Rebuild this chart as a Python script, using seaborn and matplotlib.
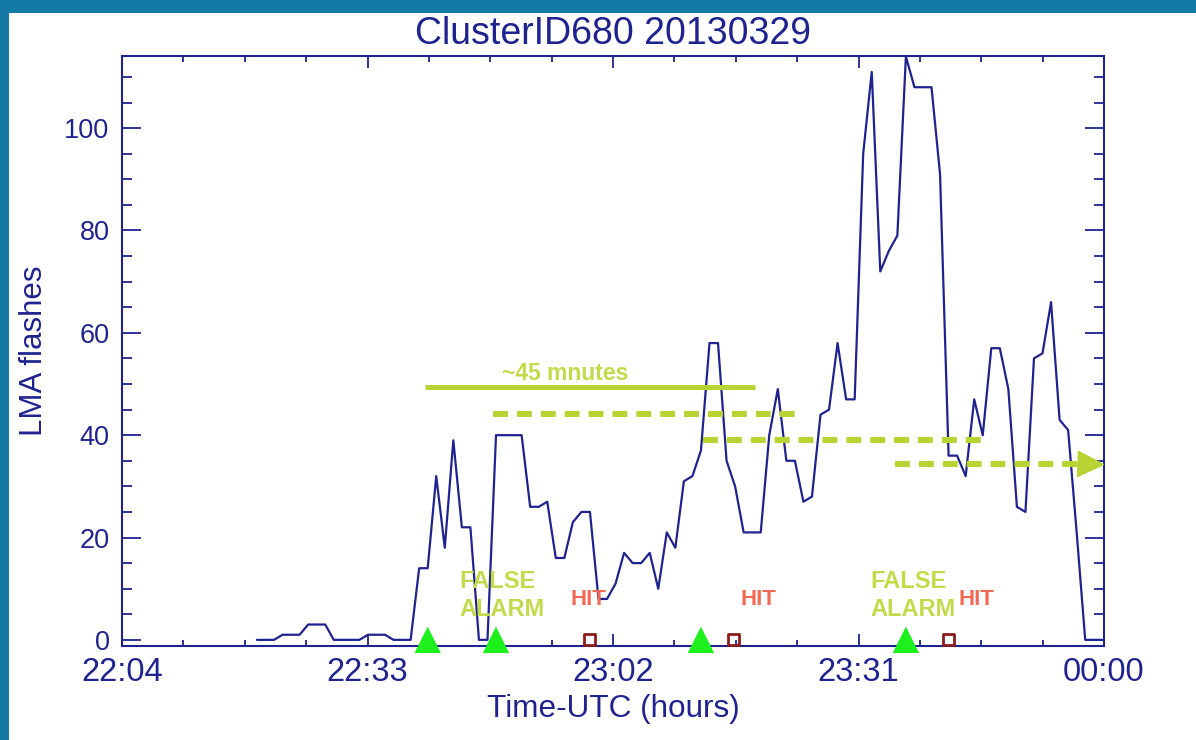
import pandas as pd
import matplotlib
matplotlib.use("Agg")
import matplotlib.pyplot as plt
import seaborn as sns
from matplotlib import font_manager
from matplotlib.patches import Rectangle
from matplotlib.ticker import MultipleLocator, FixedLocator, FixedFormatter

# ── Data ─────────────────────────────────────────────────────────────────────
# one LMA sample per minute; first sample is 15.8 min after the 22:04 axis start
first_sample_min = 15.8
flashes = [0, 0, 0, 1, 1, 1, 3, 3, 3, 0,
           0, 0, 0, 1, 1, 1, 0, 0, 0, 14,
           14, 32, 18, 39, 22, 22, 0, 0, 40, 40,
           40, 40, 26, 26, 27, 16, 16, 23, 25, 25,
           8, 8, 11, 17, 15, 15, 17, 10, 21, 18,
           31, 32, 37, 58, 58, 35, 30, 21, 21, 21,
           40, 49, 35, 35, 27, 28, 44, 45, 58, 47,
           47, 95, 111, 72, 76, 79, 114, 108, 108, 108,
           91, 36, 36, 32, 47, 40, 57, 57, 49, 26,
           25, 55, 56, 66, 43, 41, 21, 0, 0, 0]

tick_minutes = [0, 28.75, 57.5, 86.25, 115]
tick_labels = ["22:04", "22:33", "23:02", "23:31", "00:00"]

alarm_minutes = [35.8, 43.8, 67.8, 91.8]      # green triangles
hit_minutes = [54.8, 71.6, 96.8]              # dark red squares

# lead-time bars: (start min, end min, flashes level)
lead_solid = (35.5, 74.1, 49.5)
lead_dashed = [(43.4, 79.4, 44.2), (68.0, 101.1, 39.0)]
lead_arrow = (90.5, 112.0, 34.3)

false_alarm_x = [39.5, 87.6]
hit_x = [54.6, 74.5, 100.1]

NAVY = "#1f2390"
LIME = "#b8d432"
LIME_TXT = "#c3db4b"
HIT_RED = "#f26a55"

# ── Style ────────────────────────────────────────────────────────────────────
sns.set_theme(style="white")
names = {f.name for f in font_manager.fontManager.ttflist}
narrow = "Liberation Sans Narrow" in names
plt.rcParams["font.family"] = ["Liberation Sans", "DejaVu Sans"]
narrow_family = ["Liberation Sans Narrow", "Liberation Sans", "DejaVu Sans"] if narrow \
    else ["Liberation Sans", "DejaVu Sans"]
nscale = 1.0 if narrow else 0.84

times = [first_sample_min + i for i in range(len(flashes))]
df = pd.DataFrame({"minute": times, "flashes": flashes})

fig = plt.figure(figsize=(11.96, 7.40), dpi=100, facecolor="#1479a5")
fig.patches.append(Rectangle((9 / 1196, 0), 1, 1 - 13 / 740, transform=fig.transFigure,
                             facecolor="white", edgecolor="none", zorder=-10))
ax = fig.add_axes([122 / 1196, 94 / 740, 982 / 1196, 590 / 740])
ax.set_facecolor("white")

sns.lineplot(data=df, x="minute", y="flashes", ax=ax, color=NAVY, lw=1.6, zorder=3)

# lead-time lines
ax.plot(lead_solid[:2], [lead_solid[2]] * 2, color=LIME, lw=3.6, solid_capstyle="butt", zorder=4)
for x0, x1, y in lead_dashed:
    ax.plot([x0, x1], [y, y], color=LIME, lw=4.3, dashes=(2.5, 1.5),
            dash_capstyle="butt", zorder=4)
ax.plot(lead_arrow[:2], [lead_arrow[2]] * 2, color=LIME, lw=4.3, dashes=(2.5, 1.5),
        dash_capstyle="butt", zorder=4)
ax.plot([113.4], [lead_arrow[2]], marker=">", ms=18, color=LIME, mec=LIME, zorder=4, clip_on=False)

ax.text(51.9, 52.0, "~45 mnutes", color=LIME_TXT, fontsize=16.5, fontweight="bold",
        ha="center", va="center", zorder=5)

for x in false_alarm_x:
    ax.text(x, 8.7, "FALSE\nALARM", color=LIME_TXT, fontsize=17, fontweight="bold",
            ha="left", va="center", linespacing=1.3, zorder=5)
for x in hit_x:
    ax.text(x, 7.8, "HIT", color=HIT_RED, fontsize=16, fontweight="bold",
            ha="center", va="center", zorder=5)

# events
sns.scatterplot(x=alarm_minutes, y=[0] * len(alarm_minutes), ax=ax, marker="^", s=19 ** 2,
                color="#1ef01e", edgecolor="none", zorder=6, clip_on=False)
sns.scatterplot(x=hit_minutes, y=[0] * len(hit_minutes), ax=ax, marker="s", s=8 ** 2,
                facecolor="none", edgecolor="#8b1c1c", linewidth=2, zorder=6, clip_on=False)

# ── Axes ─────────────────────────────────────────────────────────────────────
ax.set_xlim(0, 115)
ax.set_ylim(-1.2, 114.1)
ax.xaxis.set_major_locator(FixedLocator(tick_minutes))
ax.xaxis.set_major_formatter(FixedFormatter(tick_labels))
ax.xaxis.set_minor_locator(MultipleLocator(115 / 16))
ax.yaxis.set_major_locator(MultipleLocator(20))
ax.yaxis.set_minor_locator(MultipleLocator(5))

for sp in ax.spines.values():
    sp.set_color(NAVY)
    sp.set_linewidth(1.5)

ax.tick_params(axis="both", which="both", direction="in", top=True, right=True,
               bottom=True, left=True, color=NAVY, width=1.3, labelcolor=NAVY)
ax.tick_params(axis="x", which="major", length=8.4, pad=8)
ax.tick_params(axis="x", which="minor", length=4.2)
ax.tick_params(axis="y", which="major", length=14, pad=9)
ax.tick_params(axis="y", which="minor", length=7)

for lab in ax.get_xticklabels():
    lab.set_family(narrow_family)
    lab.set_fontsize(28 * nscale)
for lab in ax.get_yticklabels():
    lab.set_fontsize(19.5)

ax.set_xlabel("Time-UTC (hours)", color=NAVY, fontsize=27 * nscale, family=narrow_family,
              labelpad=4)
ax.set_ylabel("LMA flashes", color=NAVY, fontsize=22.5, labelpad=11)
ax.set_title("ClusterID680 20130329", color=NAVY, fontsize=27, family=narrow_family,
             pad=9)

fig.savefig("out.png", dpi=100, facecolor=fig.get_facecolor())
